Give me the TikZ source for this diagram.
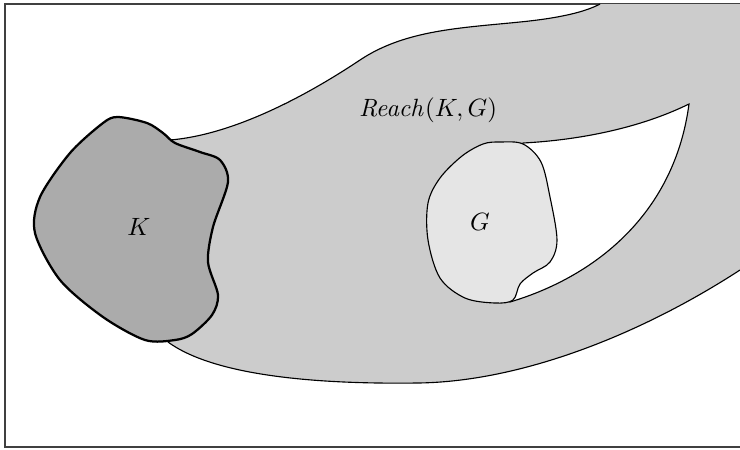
\documentclass[tikz,border=0pt]{standalone}
\begin{document}
\begin{tikzpicture}[x=0.4pt,y=-0.4pt,
  outline/.style={draw=black,line width=0.45pt},
  kline/.style={draw=black,line width=0.9pt},
  lbl/.style={inner sep=0pt,font=\normalsize}]
\definecolor{reachfill}{gray}{0.80}
\definecolor{kfill}{gray}{0.67}
\definecolor{gfill}{gray}{0.90}
\useasboundingbox (0,0) rectangle (740,449);
% frame
\draw[draw=black!75,line width=0.6pt] (5,4) rectangle (760,447);
% reach region fill
\fill[reachfill] (170,140) .. controls (230,135) and (300,100) .. (360,60)
  .. controls (405,30) and (460,28) .. (520,22)
  .. controls (560,18) and (585,12) .. (600,4)
  -- (740,4) -- (740,270)
  .. controls (640,335) and (520,382) .. (417,383)
  .. controls (340,384) and (220,380) .. (168,342)
  -- (150,240) -- cycle;
% reach outlines
\draw[outline] (170,140) .. controls (230,135) and (300,100) .. (360,60)
  .. controls (405,30) and (460,28) .. (520,22)
  .. controls (560,18) and (585,12) .. (600,4);
\draw[outline] (740,270) .. controls (640,335) and (520,382) .. (417,383)
  .. controls (340,384) and (220,380) .. (168,342);
% hole
\filldraw[fill=white,outline] (523,143) .. controls (580,140) and (640,128) .. (689,104)
  .. controls (675,210) and (600,275) .. (510,302)
  -- (480,220) -- cycle;
% G
\filldraw[fill=gfill,outline] plot[smooth cycle,tension=0.55] coordinates {(500,142) (523,144) (541,162) (550,197) (557,240) (550,262) (533,273) (520,284) (513,300) (495,303) (465,298) (440,278) (428,240) (428,203) (440,178) (462,156) (483,144)};
% K
\filldraw[fill=kfill,kline] plot[smooth cycle,tension=0.5] coordinates {(118,117) (147,123) (163,133) (175,143) (200,152) (220,160) (228,182) (213,227) (208,262) (218,295) (212,315) (192,334) (175,340) (145,340) (103,317) (60,280) (35,233) (40,197) (70,153) (103,123)};
% labels
\node[lbl] (reach) at (428,110) {$\mathit{Reach}(K,G)$};
\node[lbl] (k) at (139,227) {$K$};
\node[lbl] (g) at (480,222) {$G$};
\end{tikzpicture}
\end{document}
